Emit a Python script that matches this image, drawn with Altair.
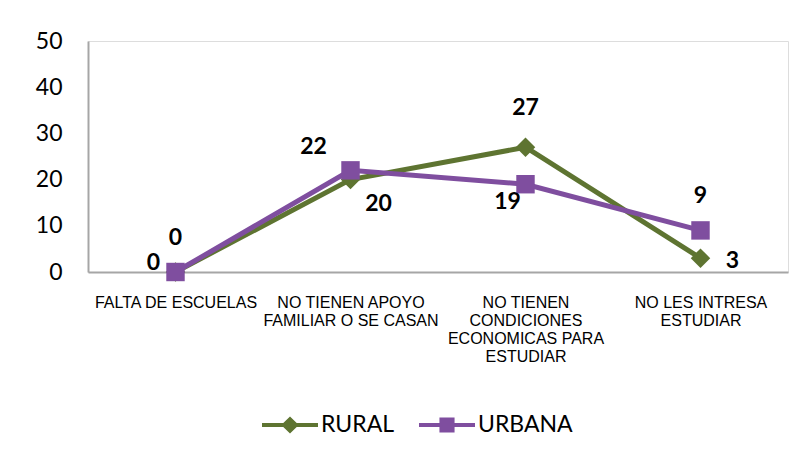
import altair as alt
import pandas as pd

categorias = [
    "FALTA DE ESCUELAS",
    "NO TIENEN APOYO|FAMILIAR O SE CASAN",
    "NO TIENEN|CONDICIONES|ECONOMICAS PARA|ESTUDIAR",
    "NO LES INTRESA|ESTUDIAR",
]
series = ["RURAL", "URBANA"]
rural = [0, 20, 27, 3]
urbana = [0, 22, 19, 9]

rows = []
for c, r, u in zip(categorias, rural, urbana):
    rows.append({"categoria": c, "serie": "RURAL", "valor": r})
    rows.append({"categoria": c, "serie": "URBANA", "valor": u})
df = pd.DataFrame(rows)

GREEN = "#5E7431"
PURPLE = "#7F4E9F"
color_scale = alt.Scale(domain=series, range=[GREEN, PURPLE])

x = alt.X("categoria:N", sort=categorias, title=None,
          scale=alt.Scale(type="point", padding=0.5),
          axis=alt.Axis(labelAngle=0, labelExpr="split(datum.label, '|')",
                        labelFont="Liberation Sans", labelFontSize=16,
                        labelColor="#000000", labelPadding=22,
                        labelLineHeight=18, labelBaseline="top",
                        ticks=False, domainColor="#A6A6A6", domainWidth=2))
y = alt.Y("valor:Q", title=None,
          scale=alt.Scale(domain=[0, 50], nice=False),
          axis=alt.Axis(values=[0, 10, 20, 30, 40, 50], grid=False, ticks=False,
                        labelFont="Lato", labelFontSize=23, labelColor="#000000",
                        labelPadding=26, domainColor="#A6A6A6", domainWidth=2))

base = alt.Chart(df)

diamond_leg = "M-1,-0.075 L-0.24,-0.075 L0,-0.3 L0.24,-0.075 L1,-0.075 L1,0.075 L0.24,0.075 L0,0.3 L-0.24,0.075 L-1,0.075 Z"
square_leg = "M-1,-0.075 L-0.27,-0.075 L-0.27,-0.27 L0.27,-0.27 L0.27,-0.075 L1,-0.075 L1,0.075 L0.27,0.075 L0.27,0.27 L-0.27,0.27 L-0.27,0.075 L-1,0.075 Z"

leg = alt.Legend(
    title=None, orient="none", direction="horizontal",
    legendX=174, legendY=356,
    labelFont="Lato", labelFontSize=23, labelColor="#000000",
    symbolSize=3136, labelOffset=3, columnPadding=24,
    symbolStrokeWidth=0)

color = alt.Color("serie:N", scale=color_scale, legend=leg)

lines = base.mark_line(strokeWidth=5).encode(
    x=x, y=y, color=color, detail="serie:N",
)

pts_rural = base.transform_filter(alt.datum.serie == "RURAL").mark_point(
    filled=True, opacity=1, size=380, shape="diamond", color=GREEN
).encode(x=x, y=y)

pts_urbana = base.transform_filter(alt.datum.serie == "URBANA").mark_point(
    filled=True, opacity=1, size=340, shape="square", color=PURPLE
).encode(x=x, y=y)

legend_layer = base.transform_filter("false").mark_point(filled=True, opacity=1).encode(
    x=x, y=y,
    color=color,
    shape=alt.Shape("serie:N", scale=alt.Scale(domain=series, range=[diamond_leg, square_leg]),
                    legend=leg),
)

def label(serie, idx, dx, dy):
    return base.transform_filter(
        (alt.datum.serie == serie) & (alt.datum.categoria == categorias[idx])
    ).mark_text(font="Lato", fontSize=23, fontWeight="bold", color="#000000",
                dx=dx, dy=dy).encode(x=x, y=y, text="valor:Q")

labels = [
    label("RURAL", 0, -22, -9),
    label("URBANA", 0, 0, -34),
    label("URBANA", 1, -37, -23),
    label("RURAL", 1, 28, 24),
    label("RURAL", 2, 0, -39),
    label("URBANA", 2, -18, 18),
    label("URBANA", 3, 0, -34),
    label("RURAL", 3, 32, 3),
]

chart = alt.layer(lines, pts_rural, pts_urbana, legend_layer, *labels).properties(
    width=700, height=231,
    autosize=alt.AutoSizeParams(type="none"),
    padding={"left": 80, "top": 33, "right": 11, "bottom": 178},
).configure_view(stroke=None).configure(background="#FFFFFF")

chart.save("out.html", embed_options={"renderer": "svg", "actions": False})
